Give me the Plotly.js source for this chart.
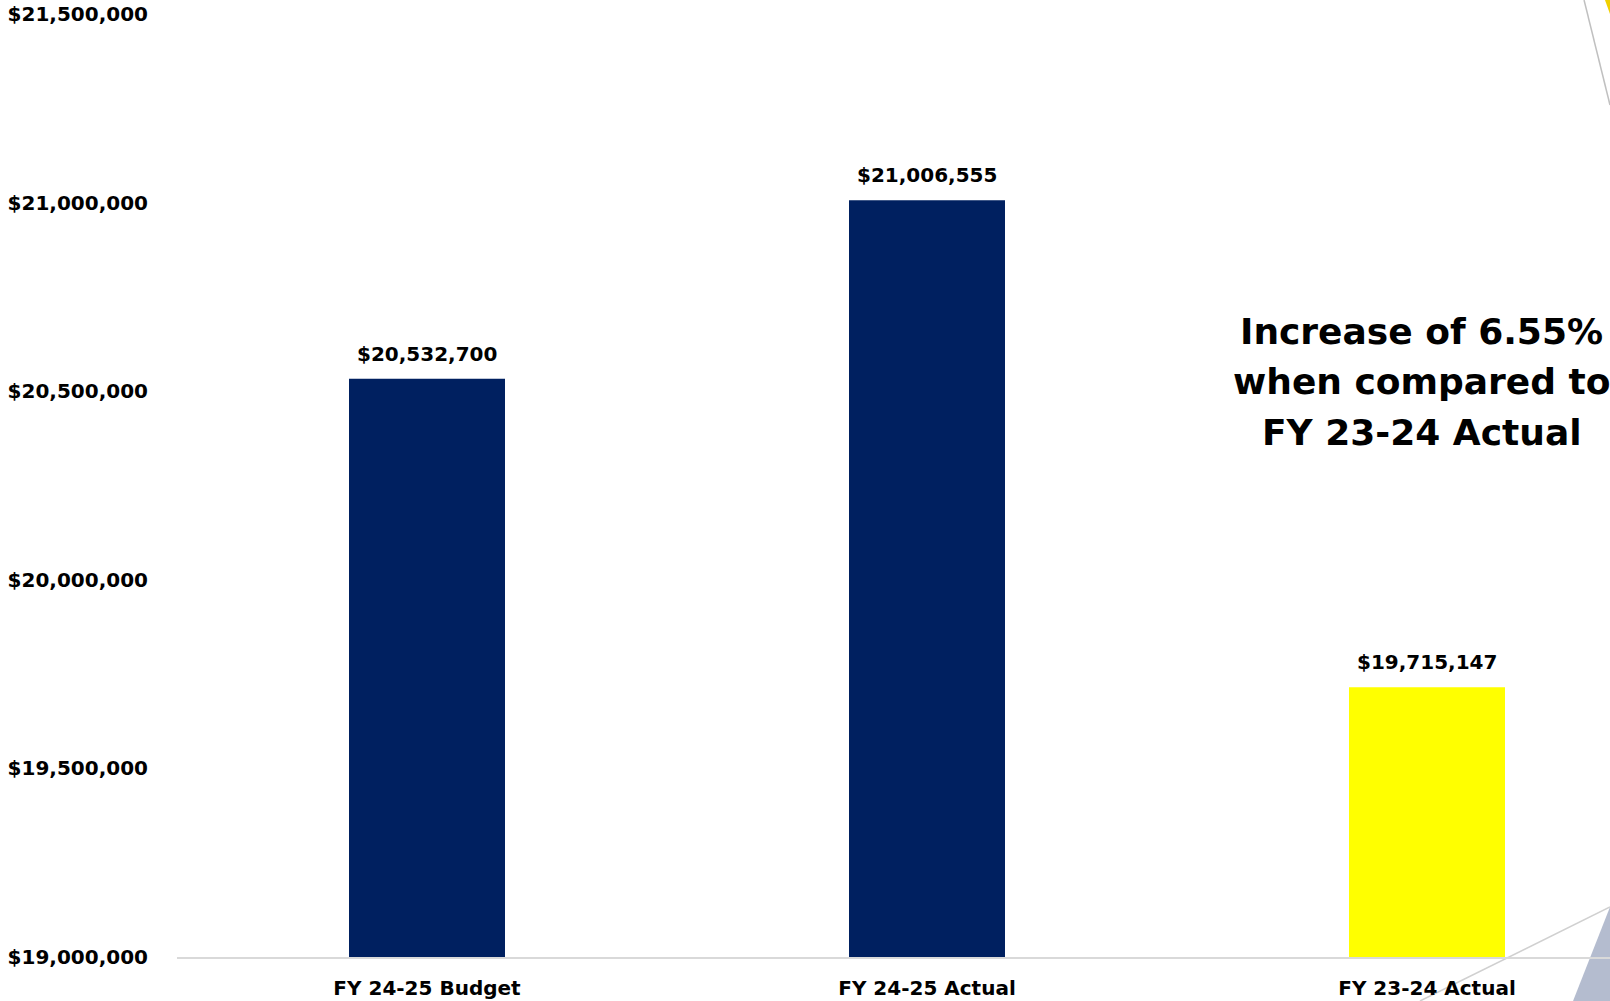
<!DOCTYPE html>
<html>
<head>
<meta charset="utf-8">
<script src="https://cdn.plot.ly/plotly-3.0.1.min.js"></script>
<style>html,body{margin:0;padding:0;background:#fff;}#chart{width:1610px;height:1001px;}</style>
</head>
<body>
<div id="chart"></div>
<script>
const categories = ["FY 24-25 Budget", "FY 24-25 Actual", "FY 23-24 Actual"];
const values = [20532700, 21006555, 19715147];
const barColors = ["#002060", "#002060", "#FFFF00"];
const valueLabels = ["$20,532,700", "$21,006,555", "$19,715,147"];
const tickValues = [19000000, 19500000, 20000000, 20500000, 21000000, 21500000];
const tickLabels = ["$19,000,000", "$19,500,000", "$20,000,000", "$20,500,000", "$21,000,000", "$21,500,000"];
const noteLines = ["Increase of 6.55%", "when compared to", "FY 23-24 Actual"];

const FONT = "DejaVu Sans, Verdana, sans-serif";

const trace = {
  type: "bar",
  x: categories,
  y: values,
  base: 0,
  marker: {color: barColors, line: {width: 0}},
  width: 0.312,
  hoverinfo: "skip"
};

const annotations = categories.map((c, i) => ({
  x: c, y: values[i], xref: "x", yref: "y",
  text: "<b>" + valueLabels[i] + "</b>",
  showarrow: false, yanchor: "bottom", yshift: 11,
  font: {family: FONT, size: 20, color: "#000"}
}));
const noteY = [0.6628, 0.6098, 0.5557];
noteLines.forEach((t, i) => annotations.push({
  xref: "paper", yref: "paper", x: 0.8688, y: noteY[i],
  xanchor: "center", yanchor: "middle",
  text: "<b>" + t + "</b>", showarrow: false, align: "center",
  font: {family: FONT, size: 36, color: "#000"}
}));

const layout = {
  width: 1610, height: 1001,
  margin: {l: 177, r: 0, t: 14, b: 44, pad: 0},
  paper_bgcolor: "#fff", plot_bgcolor: "#fff",
  showlegend: false,
  font: {family: FONT, color: "#000"},
  xaxis: {
    type: "category",
    range: [-0.5, 2.366],
    showline: true, linecolor: "#d9d9d9", linewidth: 2,
    showgrid: false, zeroline: false,
    ticks: "", ticklabelstandoff: 12,
    tickfont: {family: FONT, size: 20, color: "#000", weight: "bold"},
    fixedrange: true
  },
  yaxis: {
    range: [19000000, 21500000],
    tickmode: "array", tickvals: tickValues, ticktext: tickLabels,
    showgrid: false, zeroline: false, showline: false,
    ticks: "", ticklabelstandoff: 28,
    tickfont: {family: FONT, size: 20, color: "#000", weight: "bold"},
    fixedrange: true
  },
  annotations: annotations,
  shapes: [
    {type: "path", xref: "paper", yref: "paper", layer: "below",
     path: "M 0.9742 -0.0467 L 1.0 0.053 L 1.0 -0.0467 Z",
     fillcolor: "#b4bccf", line: {width: 0}},
    {type: "line", xref: "paper", yref: "paper", layer: "below",
     x0: 0.8674, y0: -0.0467, x1: 1.0, y1: 0.053,
     line: {color: "#d0d0d0", width: 1.5}},
    {type: "line", xref: "paper", yref: "paper", layer: "above",
     x0: 0.9819, y0: 1.0148, x1: 1.0, y1: 0.9035,
     line: {color: "#c0c0c0", width: 1.5}},
    {type: "path", xref: "paper", yref: "paper", layer: "above",
     path: "M 0.9965 1.0148 L 1.0 1.0148 L 1.0 1.0 Z",
     fillcolor: "#f0d000", line: {width: 0}}
  ]
};

Plotly.newPlot("chart", [trace], layout, {displayModeBar: false, staticPlot: true});
</script>
</body>
</html>
